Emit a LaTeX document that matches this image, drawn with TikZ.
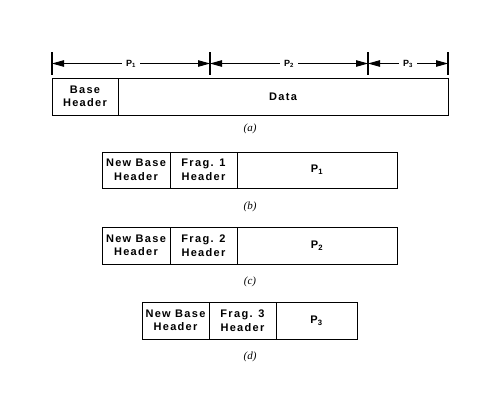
\documentclass[tikz,border=0pt]{standalone}
\usepackage{fontspec}
\usepackage{tikz}
\usetikzlibrary{arrows.meta,positioning,calc}
\newfontfamily\hdrfont[LetterSpace=12]{Liberation Sans}
\newfontfamily\capfont{Liberation Serif}
\newcommand{\pay}[1]{P\textsubscript{#1}}

\begin{document}
\begin{tikzpicture}[x=1pt,y=-1pt,
  cell/.style={draw,line width=1pt,inner sep=0pt,outer sep=0pt,align=center,
    minimum height=37pt,font=\hdrfont\bfseries\fontsize{11}{13.5}\selectfont},
  tickline/.style={line width=1.8pt},
  span/.style={line width=0.9pt,-{Triangle[length=12pt,width=6.5pt]}},
  plabel/.style={inner sep=4pt,font=\hdrfont\bfseries\fontsize{9}{10}\selectfont},
  caption/.style={font=\capfont\itshape\fontsize{11}{13}\selectfont}]
  \useasboundingbox (0,0) rectangle (499,408);

  % Ticks over the original packet
  \coordinate (t0) at (52,63.5);
  \coordinate (t1) at (210,63.5);
  \coordinate (t2) at (368,63.5);
  \coordinate (t3) at (448,63.5);
  \foreach \i in {0,1,2,3} {
    \draw[tickline] ([yshift=11.5pt]t\i) -- ([yshift=-11.5pt]t\i);
  }

  % Spans
  \node[plabel] (p1) at ($(t0)!0.5!(t1)$) {\pay{1}};
  \node[plabel] (p2) at ($(t1)!0.5!(t2)$) {\pay{2}};
  \node[plabel] (p3) at ($(t2)!0.5!(t3)$) {\pay{3}};
  \draw[span] (p1) -- (t0);
  \draw[span] (p1) -- (t1);
  \draw[span] (p2) -- (t1);
  \draw[span] (p2) -- (t2);
  \draw[span] (p3) -- (t2);
  \draw[span] (p3) -- (t3);

  % (a) original packet
  \node[cell,minimum width=66pt,anchor=north west] (base-a) at (52,78) {Base\\Header};
  \node[cell,minimum width=330pt,right=0pt of base-a] (data-a) {Data};
  \node[caption] (cap-a) at (250,129) {(a)};

  % (b) first fragment
  \node[cell,minimum width=68pt,minimum height=36pt,anchor=north west] (nbh-b) at (102,152) {New Base\\Header};
  \node[cell,minimum width=67pt,minimum height=36pt,right=0pt of nbh-b] (frag-b) {Frag. 1\\Header};
  \node[cell,minimum width=160pt,minimum height=36pt,right=0pt of frag-b] (pay-b) {\pay{1}};
  \node[caption] (cap-b) at (250,207) {(b)};

  % (c) second fragment
  \node[cell,minimum width=68pt,anchor=north west] (nbh-c) at (102,227) {New Base\\Header};
  \node[cell,minimum width=67pt,right=0pt of nbh-c] (frag-c) {Frag. 2\\Header};
  \node[cell,minimum width=160pt,right=0pt of frag-c] (pay-c) {\pay{2}};
  \node[caption] (cap-c) at (250,282) {(c)};

  % (d) third fragment
  \node[cell,minimum width=67pt,anchor=north west] (nbh-d) at (142,302) {New Base\\Header};
  \node[cell,minimum width=67pt,right=0pt of nbh-d] (frag-d) {Frag. 3\\Header};
  \node[cell,minimum width=81pt,right=0pt of frag-d] (pay-d) {\pay{3}};
  \node[caption] (cap-d) at (250,357) {(d)};
\end{tikzpicture}
\end{document}
